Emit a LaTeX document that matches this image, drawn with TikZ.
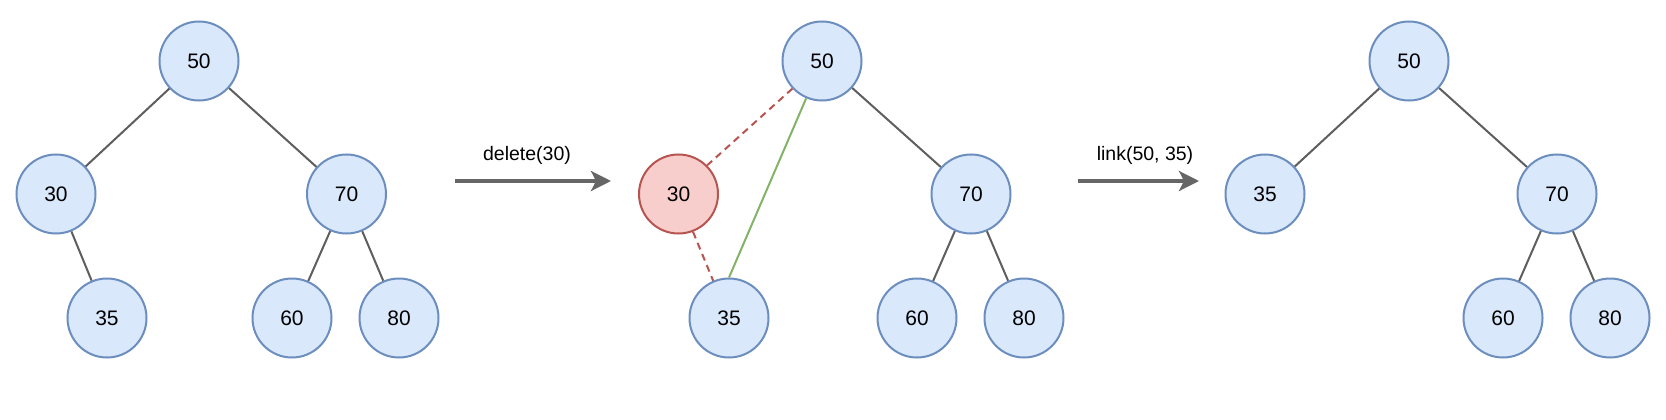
\documentclass[tikz,border=0pt]{standalone}
\usepackage{fontspec}
\setmainfont{Liberation Sans}
\usetikzlibrary{arrows.meta}
\definecolor{nfill}{HTML}{DAE8FC}
\definecolor{nline}{HTML}{6C8EBF}
\definecolor{rfill}{HTML}{F8CECC}
\definecolor{rline}{HTML}{B85450}
\definecolor{gline}{HTML}{82B366}
\definecolor{eline}{HTML}{5E5E5E}
\definecolor{aline}{HTML}{666666}
\tikzset{
  bnode/.style={circle,draw=nline,fill=nfill,line width=2pt,minimum size=79pt,inner sep=0pt,font=\fontsize{21}{25}\selectfont},
  rnode/.style={bnode,draw=rline,fill=rfill},
  edge/.style={draw=eline,line width=2pt},
  redge/.style={draw=rline,line width=2pt,dash pattern=on 7pt off 5pt},
  gedge/.style={draw=gline,line width=2pt},
  bigarrow/.style={draw=aline,line width=3.5pt,-{Stealth[length=20pt,width=20pt,inset=5pt]}},
  lbl/.style={font=\fontsize{19.5}{23}\selectfont,inner sep=0pt}
}
\begin{document}
\begin{tikzpicture}[x=1pt,y=-1pt]
\useasboundingbox (0,0) rectangle (1666,420);
% left tree
\node[bnode] (L50) at (199,61) {50};
\node[bnode] (L30) at (56,194) {30};
\node[bnode] (L70) at (346.5,194) {70};
\node[bnode] (L35) at (107,318) {35};
\node[bnode] (L60) at (292,318) {60};
\node[bnode] (L80) at (399,318) {80};
\draw[edge] (L50) -- (L30);
\draw[edge] (L50) -- (L70);
\draw[edge] (L30) -- (L35);
\draw[edge] (L70) -- (L60);
\draw[edge] (L70) -- (L80);
% arrow 1
\coordinate (A1s) at (455,181);
\coordinate (A1e) at (611,181);
\draw[bigarrow] (A1s) -- (A1e);
\node[lbl] (D) at (527,155) {delete(30)};
% middle tree
\node[bnode] (M50) at (822,61) {50};
\node[rnode] (M30) at (678.5,194) {30};
\node[bnode] (M70) at (971,194) {70};
\node[bnode] (M35) at (729,318) {35};
\node[bnode] (M60) at (917,318) {60};
\node[bnode] (M80) at (1024,318) {80};
\draw[redge] (M50.223) -- (M30.45);
\draw[redge] (M30.291) -- (M35.113);
\draw[gedge] (M50.247) -- (M35.90);
\draw[edge] (M50) -- (M70);
\draw[edge] (M70) -- (M60);
\draw[edge] (M70) -- (M80);
% arrow 2
\coordinate (A2s) at (1078,181);
\coordinate (A2e) at (1199,181);
\draw[bigarrow] (A2s) -- (A2e);
\node[lbl] (K) at (1145,155) {link(50, 35)};
% right tree
\node[bnode] (R50) at (1409,61) {50};
\node[bnode] (R35) at (1265,194) {35};
\node[bnode] (R70) at (1557,194) {70};
\node[bnode] (R60) at (1503,318) {60};
\node[bnode] (R80) at (1610,318) {80};
\draw[edge] (R50) -- (R35);
\draw[edge] (R50) -- (R70);
\draw[edge] (R70) -- (R60);
\draw[edge] (R70) -- (R80);
\end{tikzpicture}
\end{document}
